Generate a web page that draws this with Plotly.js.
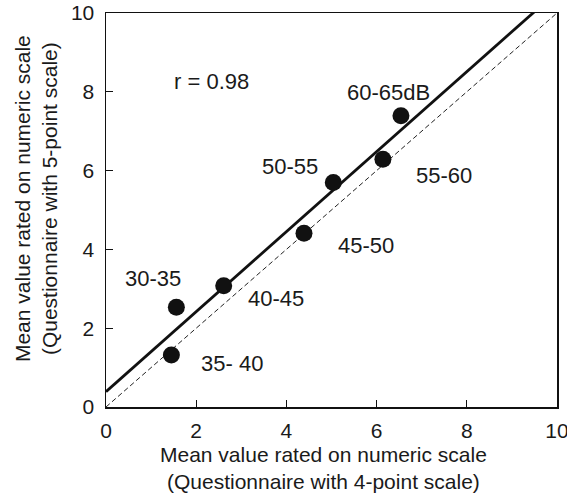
<!DOCTYPE html>
<html>
<head>
<meta charset="utf-8">
<script src="https://cdn.plot.ly/plotly-3.0.1.min.js"></script>
<style>html,body{margin:0;padding:0;background:#fff;}#chart{width:567px;height:496px;}</style>
</head>
<body>
<div id="chart"></div>
<script>
// ---- data ----
const bandLabels = ["30-35", "35- 40", "40-45", "45-50", "50-55", "55-60", "60-65dB"];
const meanFourPoint = [1.56, 1.45, 2.61, 4.39, 5.04, 6.14, 6.54];
const meanFivePoint = [2.53, 1.32, 3.08, 4.41, 5.70, 6.29, 7.39];
const fitIntercept = 0.39;
const fitSlope = 1.015;
const correlationText = "r = 0.98";
const tickValues = [0, 2, 4, 6, 8, 10];
const xTitleText = "Mean value rated on numeric scale<br>(Questionnaire with 4-point scale)";
const yTitleText = "Mean value rated on numeric scale<br>(Questionnaire with 5-point scale)";

// ---- styling / layout ----
const FONT = "Liberation Sans, Arial, Helvetica, sans-serif";
const TXT = "#1a1a1a";
// pixel offsets of each band label relative to its point
const labelShift = [[-23, 29], [61, -9], [52, -13], [62, -12], [-43, 16], [61, -16], [-12, 23]];

const axisMin = tickValues[0], axisMax = tickValues[tickValues.length - 1];
const lineX = [axisMin, axisMax];

const traces = [
  { // identity dashed line
    x: lineX, y: lineX, mode: "lines", type: "scatter",
    line: { color: "#222", width: 1, dash: "5px,3px" }, hoverinfo: "skip"
  },
  { // regression line
    x: lineX, y: lineX.map(v => fitIntercept + fitSlope * v), mode: "lines", type: "scatter",
    line: { color: "#111", width: 2.8 }, hoverinfo: "skip"
  },
  {
    x: meanFourPoint, y: meanFivePoint, mode: "markers", type: "scatter",
    marker: { color: "#111", size: 17 }
  }
];

const annotations = bandLabels.map((t, i) => ({
  x: meanFourPoint[i], y: meanFivePoint[i], xref: "x", yref: "y",
  text: t, showarrow: false, xanchor: "center", yanchor: "middle",
  xshift: labelShift[i][0], yshift: labelShift[i][1],
  font: { family: FONT, size: 22, color: TXT }
}));
annotations.push({
  x: 2.34, y: 8.27, xref: "x", yref: "y", text: correlationText, showarrow: false,
  xanchor: "center", yanchor: "middle", font: { family: FONT, size: 22, color: TXT }
});
annotations.push({
  x: 0.483, y: -0.155, xref: "paper", yref: "paper", text: xTitleText, showarrow: false,
  xanchor: "center", yanchor: "middle", align: "center",
  font: { family: FONT, size: 21, color: TXT }
});
annotations.push({
  x: -0.155, y: 0.528, xref: "paper", yref: "paper", text: yTitleText, showarrow: false,
  textangle: -90, xanchor: "center", yanchor: "middle", align: "center",
  font: { family: FONT, size: 21, color: TXT }
});

const axisCommon = {
  range: [axisMin, axisMax], tickvals: tickValues, ticktext: tickValues.map(String),
  showgrid: false, zeroline: false, showline: true, mirror: true,
  linecolor: "#111", linewidth: 1.5, ticks: "inside", ticklen: 7, tickwidth: 1, tickcolor: "#111",
  tickfont: { family: FONT, size: 21, color: TXT }, fixedrange: true,
  ticklabeloverflow: "allow"
};

const layout = {
  width: 567, height: 496,
  margin: { l: 106, r: 10, t: 13, b: 89 },
  paper_bgcolor: "#fff", plot_bgcolor: "#fff",
  showlegend: false,
  xaxis: Object.assign({}, axisCommon, { ticklabelstandoff: 4 }),
  yaxis: Object.assign({}, axisCommon, { ticklabelstandoff: 6 }),
  annotations: annotations
};

Plotly.newPlot("chart", traces, layout, { displayModeBar: false, staticPlot: true });
</script>
</body>
</html>
